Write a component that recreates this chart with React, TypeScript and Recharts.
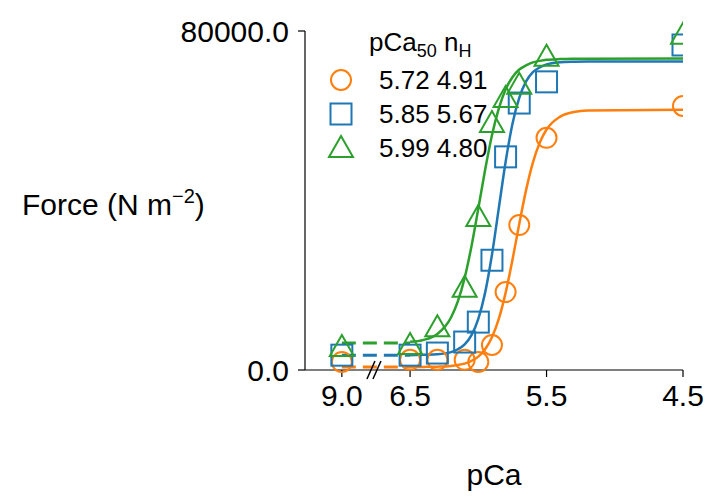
import React from "react";
import { ComposedChart, Line, Scatter, XAxis, YAxis, ReferenceDot } from "recharts";

if (typeof document !== "undefined") document.body.style.margin = "0";

const pCaPoints = [9.0, 6.5, 6.3, 6.1, 6.0, 5.9, 5.8, 5.7, 5.5, 4.5];
const orangeForce = [1900, 2400, 2400, 2400, 1900, 5900, 18400, 34200, 54800, 62300];
const blueForce = [3500, 3500, 4000, 6600, 11300, 25900, 50300, 63000, 68000, 76700];
const greenForce = [5400, 5900, 10100, 19400, 36100, 58300, 64200, 67300, 73900, 79100];

const curvePCa = [6.5, 6.4, 6.3, 6.2, 6.15, 6.1, 6.05, 6.0, 5.95, 5.9, 5.85, 5.8, 5.75, 5.7, 5.65, 5.6, 5.55, 5.5, 5.4, 5.3, 5.2, 4.5];
const orangeCurve = [700, 730, 785, 960, 1180, 1510, 2150, 3160, 4890, 7720, 12050, 18200, 25950, 34450, 42450, 48950, 53650, 56750, 59800, 60900, 61250, 61400];
const blueCurve = [3510, 3580, 3700, 4210, 4900, 6050, 8250, 12090, 18260, 27200, 38150, 49100, 58040, 64200, 68100, 70300, 71400, 72100, 72650, 72750, 72790, 72800];
const greenCurve = [6640, 7110, 8500, 12400, 16200, 21750, 29200, 38100, 47250, 55400, 61700, 66200, 69100, 70900, 71900, 72600, 72950, 73200, 73380, 73450, 73480, 73500];

const minLevels = { orange: 700, blue: 3500, green: 6400 };
const legendRows = [
  { label: "5.72 4.91", color: "#ff7f0e", shape: "circle" },
  { label: "5.85 5.67", color: "#1f77b4", shape: "square" },
  { label: "5.99 4.80", color: "#2ca02c", shape: "triangle" },
];
const xTicks = [-7, -6.5, -5.5, -4.5];
const yTicks = [0, 80000];

const toX = (p: number) => (p === 9.0 ? -7 : -p);
const pts = (f: number[]) => pCaPoints.map((p, i) => ({ x: toX(p), y: f[i] }));
const curve = (f: number[]) => curvePCa.map((p, i) => ({ x: -p, y: f[i] }));
const flat = (v: number) => [{ x: -7, y: v }, { x: -6.5, y: v }];

const FONT = "Arial, 'Liberation Sans', sans-serif";
const FS = 30;

const Marker = ({ cx, cy, color, shape }: any) => {
  if (shape === "circle") return <circle cx={cx} cy={cy} r={10} fill="none" stroke={color} strokeWidth={2} />;
  if (shape === "square") return <rect x={cx - 10.5} y={cy - 10.5} width={21} height={21} fill="none" stroke={color} strokeWidth={2} />;
  return <polygon points={`${cx},${cy - 12} ${cx + 12},${cy + 9} ${cx - 12},${cy + 9}`} fill="none" stroke={color} strokeWidth={2} />;
};

const BreakMark = ({ cx, cy }: any) => (
  <g stroke="#000" strokeWidth={1.5}>
    <line x1={cx - 9} y1={cy + 9} x2={cx - 1} y2={cy - 9} />
    <line x1={cx - 3} y1={cy + 9} x2={cx + 5} y2={cy - 9} />
  </g>
);

const YLabel = () => (
  <text x={22} y={215} fontSize={FS} fontFamily={FONT} fill="#000">
    Force (N m<tspan dy={-12} fontSize={20}>−2</tspan><tspan dy={12}>)</tspan>
  </text>
);

export default function App() {
  const series = [
    { c: "#ff7f0e", s: "circle", p: orangeForce, cv: orangeCurve, m: minLevels.orange },
    { c: "#1f77b4", s: "square", p: blueForce, cv: blueCurve, m: minLevels.blue },
    { c: "#2ca02c", s: "triangle", p: greenForce, cv: greenCurve, m: minLevels.green },
  ];
  return (
    <div style={{ position: "relative", width: 725, height: 499, background: "#fff" }}>
      <ComposedChart width={725} height={499} margin={{ top: 31, right: 42, bottom: 69, left: 0 }}>
        <XAxis type="number" dataKey="x" domain={[-7.27, -4.5]} ticks={xTicks} allowDataOverflow height={60}
          tickFormatter={(v: number) => (v === -7 ? "9.0" : (-v).toFixed(1))}
          tick={{ fontSize: FS, fill: "#000", fontFamily: FONT }} tickSize={7} tickMargin={8}
          stroke="#000" strokeWidth={1.2}
          label={{ value: "pCa", position: "insideBottom", offset: -55, fontSize: FS, fill: "#000", fontFamily: FONT }} />
        <YAxis type="number" dataKey="y" width={305} domain={[0, 80000]} ticks={yTicks}
          tickFormatter={(v: number) => v.toFixed(1)}
          tick={{ fontSize: FS, fill: "#000", fontFamily: FONT }} tickSize={7} tickMargin={9}
          stroke="#000" strokeWidth={1.2} label={<YLabel />} />
        {series.map((s, i) => (
          <Line key={"d" + i} data={flat(s.m)} dataKey="y" stroke={s.c} strokeWidth={3} strokeDasharray="14 7" dot={false} isAnimationActive={false} />
        ))}
        {series.map((s, i) => (
          <Line key={"c" + i} data={curve(s.cv)} dataKey="y" type="monotone" stroke={s.c} strokeWidth={2.5} dot={false} isAnimationActive={false} />
        ))}
        {series.map((s, i) => (
          <Scatter key={"s" + i} data={pts(s.p)} dataKey="y" isAnimationActive={false}
            shape={(props: any) => <Marker cx={props.cx} cy={props.cy} color={s.c} shape={s.s} />} />
        ))}
        <ReferenceDot x={-6.75} y={0} r={0} shape={(p: any) => <BreakMark cx={p.cx} cy={p.cy} />} ifOverflow="visible" />
      </ComposedChart>
      <div style={{ position: "absolute", left: 327, top: 25, fontFamily: FONT, fontSize: 26, color: "#000", lineHeight: "34px" }}>
        <div style={{ marginLeft: 42, height: 38 }}>pCa<sub style={{ fontSize: 18 }}>50</sub> n<sub style={{ fontSize: 18 }}>H</sub></div>
        {legendRows.map((r) => (
          <div key={r.label} style={{ display: "flex", alignItems: "center", height: 34 }}>
            <svg width={28} height={28} style={{ marginRight: 24 }}>
              <Marker cx={14} cy={14} color={r.color} shape={r.shape} />
            </svg>
            <span>{r.label}</span>
          </div>
        ))}
      </div>
    </div>
  );
}
